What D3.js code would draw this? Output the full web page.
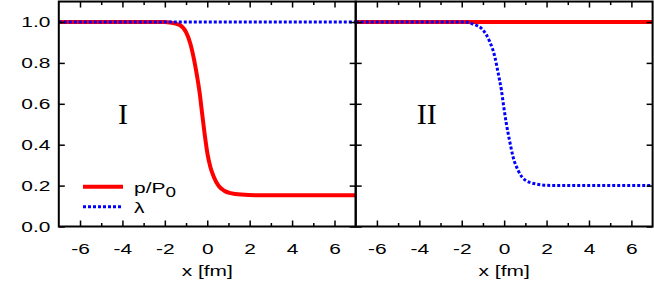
<!DOCTYPE html>
<html>
<head>
<meta charset="utf-8">
<script src="https://cdn.jsdelivr.net/npm/d3@7"></script>
<style>
  body { margin: 0; background: #fff; }
  svg { display: block; }
  text { font-family: "Liberation Sans", Arial, sans-serif; fill: #000; }
</style>
</head>
<body>
<div id="chart"></div>
<script>
// Tick values
const xTicks = [-6, -4, -2, 0, 2, 4, 6];
const xMinorTicks = [-5, -3, -1, 1, 3, 5];
const yTicks = [0, 0.2, 0.4, 0.6, 0.8, 1.0];

// Panel I: pressure drops, lambda stays at 1
const pressureI = [[-7, 1], [-2, 1], [-1.78, 0.998], [-1.3, 0.985], [-1.0, 0.95], [-0.8, 0.895], [-0.62, 0.815],
  [-0.48, 0.735], [-0.36, 0.655], [-0.25, 0.56], [-0.12, 0.45], [0.02, 0.35], [0.15, 0.29], [0.3, 0.245],
  [0.55, 0.197], [0.8, 0.175], [1.1, 0.163], [1.6, 0.156], [2.5, 0.153], [7, 0.153]];
const lambdaI = [[-7, 1], [7, 1]];

// Panel II: pressure stays at 1, lambda drops
const pressureII = [[-7, 1], [7, 1]];
const lambdaII = [[-7, 1], [-1.9, 1], [-1.47, 0.99], [-1.0, 0.961], [-0.68, 0.904], [-0.44, 0.83], [-0.28, 0.749],
  [-0.13, 0.667], [-0.02, 0.586], [0.1, 0.505], [0.25, 0.423], [0.42, 0.341], [0.65, 0.276], [0.98, 0.228],
  [1.5, 0.208], [2.2, 0.201], [7, 0.2]];

const panelLabels = ["I", "II"];
const legendLabels = ["p/P", "λ"];

const width = 654, height = 283;
const plotTop = 1.55, plotBottom = 226.5;
const sx = 1.35; // horizontal stretch of the text in the original figure
const fontSize = "15.5px";

const panels = [
  { left: 58.8, right: 355.7, label: panelLabels[0], labelX: 123, pressure: pressureI, lambda: lambdaI, yLabels: true, legend: true },
  { left: 355.7, right: 652.6, label: panelLabels[1], labelX: 426.7, pressure: pressureII, lambda: lambdaII, yLabels: false, legend: false }
];

const svg = d3.select("#chart").append("svg")
  .attr("width", width)
  .attr("height", height);

const yScale = d3.scaleLinear().domain([0, 1.1]).range([plotBottom, plotTop]);

panels.forEach((p, i) => {
  const xScale = d3.scaleLinear().domain([-7, 7]).range([p.left, p.right]);
  const g = svg.append("g");

  g.append("clipPath").attr("id", "clip" + i)
    .append("rect")
    .attr("x", p.left).attr("y", plotTop)
    .attr("width", p.right - p.left).attr("height", plotBottom - plotTop);

  const line = d3.line()
    .x(d => xScale(d[0]))
    .y(d => yScale(d[1]))
    .curve(d3.curveMonotoneX);

  const lines = g.append("g").attr("clip-path", `url(#clip${i})`);

  lines.append("path")
    .datum(p.pressure)
    .attr("d", line)
    .attr("fill", "none")
    .attr("stroke", "#ff0000")
    .attr("stroke-width", 4);

  lines.append("path")
    .datum(p.lambda)
    .attr("d", line)
    .attr("fill", "none")
    .attr("stroke", "#0000ff")
    .attr("stroke-width", 3)
    .attr("stroke-dasharray", "3,2");

  // Bottom axis with labels (plain hyphen for negatives)
  const bottomAxis = g.append("g")
    .attr("transform", `translate(0,${plotBottom})`)
    .call(d3.axisBottom(xScale).tickValues(xTicks).tickSizeInner(-6).tickSizeOuter(0).tickPadding(16.5)
      .tickFormat(d => String(d)));
  bottomAxis.selectAll("text")
    .attr("transform", `scale(${sx},1)`)
    .style("font-size", fontSize);

  g.append("g")
    .attr("transform", `translate(0,${plotBottom})`)
    .call(d3.axisBottom(xScale).tickValues(xMinorTicks).tickSizeInner(-3.5).tickSizeOuter(0).tickFormat(""));

  // Top axis
  g.append("g")
    .attr("transform", `translate(0,${plotTop})`)
    .call(d3.axisTop(xScale).tickValues(xTicks).tickSizeInner(-6).tickSizeOuter(0).tickFormat(""));
  g.append("g")
    .attr("transform", `translate(0,${plotTop})`)
    .call(d3.axisTop(xScale).tickValues(xMinorTicks).tickSizeInner(-3.5).tickSizeOuter(0).tickFormat(""));

  // Left axis
  const leftAxis = g.append("g")
    .attr("transform", `translate(${p.left},0)`)
    .call(d3.axisLeft(yScale).tickValues(yTicks).tickSizeInner(-6).tickSizeOuter(0).tickPadding(6.2)
      .tickFormat(p.yLabels ? d3.format(".1f") : ""));
  leftAxis.selectAll("text")
    .attr("transform", `scale(${sx},1)`)
    .style("font-size", fontSize);

  // Right axis
  g.append("g")
    .attr("transform", `translate(${p.right},0)`)
    .call(d3.axisRight(yScale).tickValues(yTicks).tickSizeInner(-6).tickSizeOuter(0).tickFormat(""));

  g.selectAll(".domain").remove();
  g.selectAll(".tick line").attr("stroke", "#000").attr("stroke-width", 1.5);

  // Frame
  g.append("rect")
    .attr("x", p.left).attr("y", plotTop)
    .attr("width", p.right - p.left).attr("height", plotBottom - plotTop)
    .attr("fill", "none")
    .attr("stroke", "#000")
    .attr("stroke-width", 2);

  // x-axis title
  g.append("text")
    .attr("transform", `translate(${xScale(0)},276) scale(${sx},1)`)
    .attr("text-anchor", "middle")
    .style("font-size", fontSize)
    .text("x [fm]");

  // Panel label
  g.append("text")
    .attr("x", p.labelX)
    .attr("y", 124)
    .attr("text-anchor", "middle")
    .style("font-family", "'Liberation Serif', 'Times New Roman', serif")
    .style("font-size", "30px")
    .text(p.label);

  if (p.legend) {
    const legend = g.append("g");
    const items = [
      { color: "#ff0000", width: 4, dash: null, y: 186.7 },
      { color: "#0000ff", width: 3, dash: "3,2", y: 206.7 }
    ];
    items.forEach((it, k) => {
      legend.append("line")
        .attr("x1", 83).attr("x2", 123)
        .attr("y1", it.y).attr("y2", it.y)
        .attr("stroke", it.color)
        .attr("stroke-width", it.width)
        .attr("stroke-dasharray", it.dash);
      const t = legend.append("text")
        .attr("transform", `translate(134,${it.y + 6}) scale(${sx},1)`)
        .style("font-size", fontSize)
        .text(legendLabels[k]);
      if (k === 0) {
        t.append("tspan").attr("dy", 4.5).style("font-size", "14px").text("0");
      }
    });
  }
});
</script>
</body>
</html>
